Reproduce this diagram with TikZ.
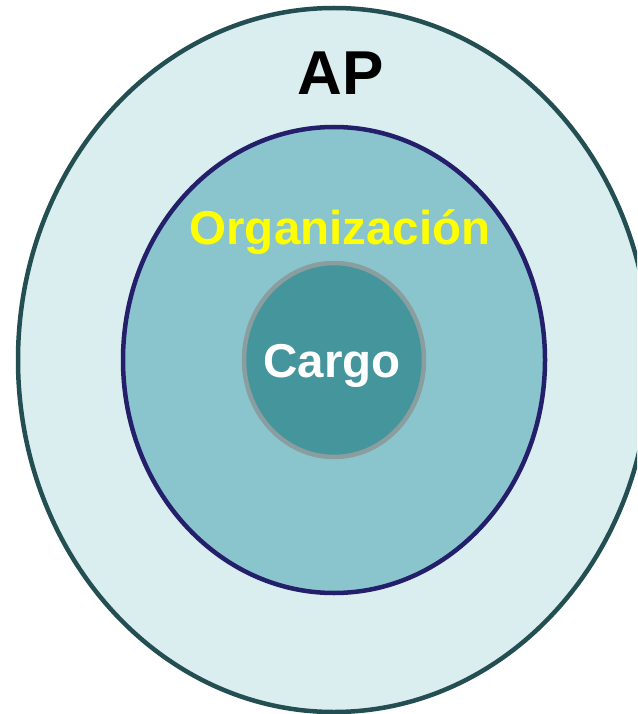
\documentclass[tikz,border=0pt]{standalone}
\usepackage{fontspec}
\setmainfont{Liberation Sans}
\definecolor{outerfill}{HTML}{DAEDEF}
\definecolor{outerline}{HTML}{234E52}
\definecolor{midfill}{HTML}{8AC5CD}
\definecolor{midline}{HTML}{231F6B}
\definecolor{innerfill}{HTML}{45959D}
\definecolor{innerline}{HTML}{8A9EA0}
\definecolor{orgyellow}{HTML}{FFFF00}
\tikzset{
  ring/.style={line width=4.5pt},
  lbl/.style={font=\bfseries, inner sep=0pt, anchor=base}
}
\begin{document}
\begin{tikzpicture}[x=1pt,y=-1pt]
\useasboundingbox (0,0) rectangle (637,714);
\clip (0,0) rectangle (637,714);
\fill[white] (0,0) rectangle (637,714);
\path[ring, draw=outerline, fill=outerfill] (334,360) ellipse [x radius=316, y radius=352];
\path[ring, draw=midline, fill=midfill] (334,360) ellipse [x radius=211, y radius=233];
\path[ring, draw=innerline, fill=innerfill] (334,360) ellipse [x radius=90, y radius=97];
\node[lbl, font=\fontsize{62}{62}\selectfont\bfseries] (ap) at (341,95) {AP};
\node[lbl, text=orgyellow, font=\fontsize{47.5}{47.5}\selectfont\bfseries] (org) at (340,244) {Organización};
\node[lbl, text=white, font=\fontsize{47.5}{47.5}\selectfont\bfseries] (cargo) at (332,377) {Cargo};
\end{tikzpicture}
\end{document}
